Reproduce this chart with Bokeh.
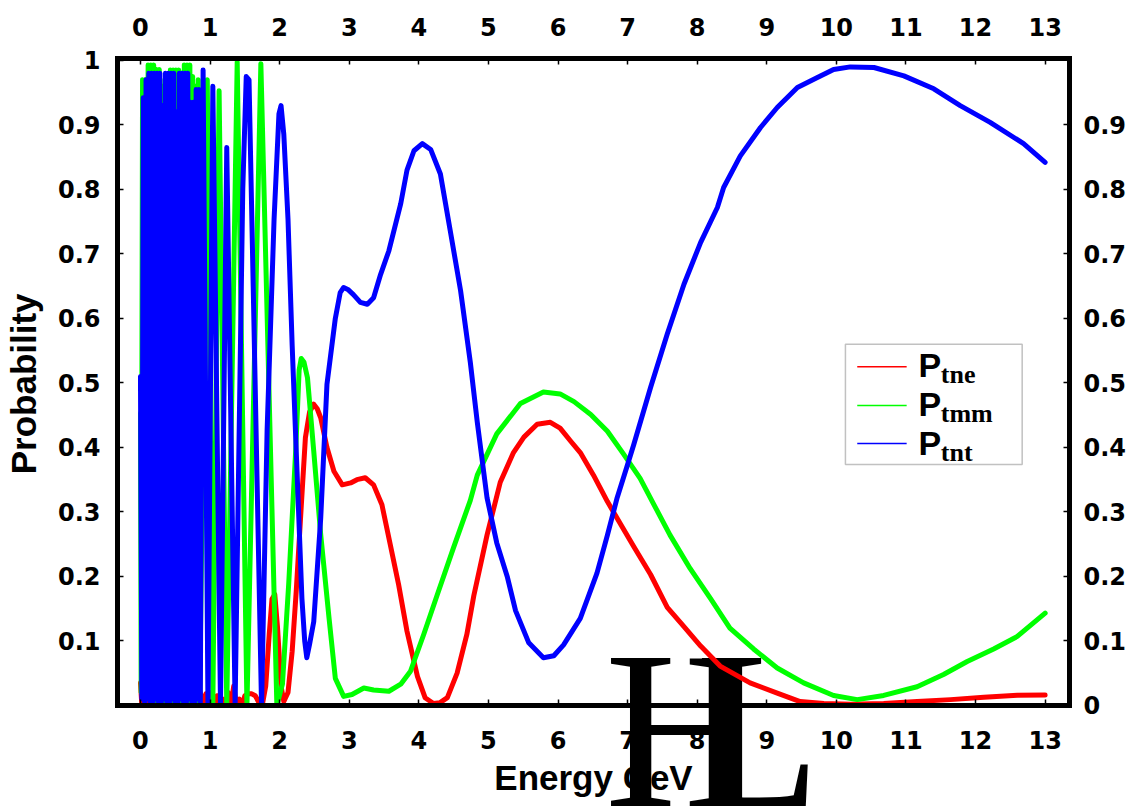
from bokeh.plotting import figure
from bokeh.models import Range1d, LinearAxis, FixedTicker, BoxAnnotation, Arrow, Label
from bokeh.embed import file_html
from bokeh.resources import INLINE

# ---------------- data ----------------
x_ticks = [0, 1, 2, 3, 4, 5, 6, 7, 8, 9, 10, 11, 12, 13]
x_tick_labels = ["0", "1", "2", "3", "4", "5", "6", "7", "8", "9", "10", "11", "12", "13"]
left_ticks = [0.1, 0.2, 0.3, 0.4, 0.5, 0.6, 0.7, 0.8, 0.9, 1.0]
left_tick_labels = ["0.1", "0.2", "0.3", "0.4", "0.5", "0.6", "0.7", "0.8", "0.9", "1"]
right_ticks = [0.0, 0.1, 0.2, 0.3, 0.4, 0.5, 0.6, 0.7, 0.8, 0.9]
right_tick_labels = ["0", "0.1", "0.2", "0.3", "0.4", "0.5", "0.6", "0.7", "0.8", "0.9"]

series_names = ["P", "P", "P"]
series_subs = ["tne", "tmm", "tnt"]
series_colors = ["#FF0000", "#00FF00", "#0000FF"]

# P tau-e (red)
energy_te = [0.00, 0.02, 0.06, 0.10, 0.14, 0.18, 0.22, 0.26, 0.30, 0.34, 0.38, 0.42, 0.46, 0.50,
             0.54, 0.58, 0.62, 0.66, 0.70, 0.74, 0.78, 0.82, 0.86, 0.90, 0.94, 0.98, 1.02, 1.06,
             1.10, 1.14, 1.18, 1.22, 1.26, 1.30, 1.34, 1.38, 1.42, 1.46, 1.50, 1.55, 1.60, 1.65,
             1.70, 1.75, 1.80, 1.85, 1.89, 1.93, 1.97, 2.02, 2.06, 2.12, 2.18, 2.24, 2.30, 2.37,
             2.43, 2.49, 2.54, 2.59, 2.68, 2.78, 2.90, 3.02, 3.11, 3.23, 3.35, 3.47, 3.59, 3.71,
             3.83, 3.98, 4.09, 4.21, 4.30, 4.41, 4.55, 4.69, 4.79, 4.98, 5.17, 5.36, 5.51, 5.70,
             5.89, 6.03, 6.18, 6.32, 6.51, 6.71, 6.90, 7.09, 7.33, 7.57, 7.81, 8.05, 8.33, 8.76,
             9.15, 9.48, 9.82, 10.20, 10.68, 11.16, 11.64, 12.12, 12.60, 13.00]
prob_te = [0.035, 0.0, 0.02, 0.0, 0.012, 0.0, 0.01, 0.0, 0.008, 0.0, 0.006, 0.0, 0.015, 0.0,
           0.012, 0.0, 0.01, 0.0, 0.01, 0.0, 0.012, 0.0, 0.02, 0.0, 0.018, 0.0, 0.02, 0.0,
           0.015, 0.0, 0.01, 0.0, 0.02, 0.0, 0.03, 0.0, 0.01, 0.0, 0.015, 0.018, 0.018, 0.015,
           0.005, 0.0, 0.03, 0.11, 0.165, 0.172, 0.12, 0.03, 0.006, 0.02, 0.084, 0.18, 0.29, 0.415,
           0.455, 0.467, 0.46, 0.446, 0.40, 0.363, 0.342, 0.345, 0.35, 0.353, 0.342, 0.311, 0.249, 0.187,
           0.115, 0.045, 0.012, 0.003, 0.004, 0.012, 0.05, 0.11, 0.17, 0.264, 0.346, 0.392, 0.416, 0.436,
           0.439, 0.43, 0.41, 0.392, 0.357, 0.316, 0.281, 0.246, 0.203, 0.152, 0.122, 0.092, 0.061, 0.035,
           0.019, 0.006, 0.003, 0.002, 0.003, 0.006, 0.009, 0.0125, 0.0157, 0.016]

# P tau-mu (green)
energy_tm = [0.00, 0.01, 0.03, 0.05, 0.07, 0.09, 0.11, 0.13, 0.15, 0.17, 0.19, 0.21, 0.23, 0.25,
             0.27, 0.29, 0.31, 0.33, 0.35, 0.37, 0.39, 0.41, 0.43, 0.45, 0.47, 0.49, 0.51, 0.53,
             0.55, 0.57, 0.59, 0.61, 0.63, 0.65, 0.67, 0.69, 0.71, 0.73, 0.75, 0.77, 0.79, 0.81,
             0.83, 0.85, 0.96, 1.04, 1.13, 1.24, 1.39, 1.53, 1.73, 1.96, 2.04, 2.13, 2.23, 2.28,
             2.31, 2.35, 2.40, 2.49, 2.59, 2.71, 2.80, 2.92, 3.04, 3.21, 3.35, 3.57, 3.74, 3.88,
             4.07, 4.26, 4.50, 4.74, 4.84, 5.12, 5.46, 5.79, 6.03, 6.23, 6.47, 6.71, 6.94, 7.18,
             7.38, 7.61, 7.90, 8.19, 8.47, 8.81, 9.15, 9.53, 9.96, 10.30, 10.68, 11.16, 11.54, 11.88,
             12.26, 12.60, 13.00]
prob_tm = [0.453, 0.02, 0.97, 0.03, 0.97, 0.02, 0.993, 0.01, 0.993, 0.0, 0.993, 0.0, 0.986, 0.0,
           0.986, 0.0, 0.96, 0.0, 0.97, 0.0, 0.97, 0.0, 0.985, 0.0, 0.985, 0.0, 0.985, 0.0,
           0.985, 0.0, 0.98, 0.0, 0.993, 0.0, 0.993, 0.0, 0.993, 0.0, 0.975, 0.0, 0.96, 0.0,
           0.97, 0.0, 0.97, 0.0, 0.953, 0.0, 0.998, 0.0, 0.995, 0.0, 0.033, 0.188, 0.394, 0.52,
           0.538, 0.532, 0.508, 0.394, 0.265, 0.135, 0.042, 0.014, 0.017, 0.027, 0.024, 0.022, 0.033, 0.053,
           0.11, 0.17, 0.245, 0.318, 0.357, 0.421, 0.468, 0.486, 0.483, 0.471, 0.451, 0.425, 0.39, 0.352,
           0.311, 0.264, 0.212, 0.166, 0.12, 0.0875, 0.058, 0.035, 0.0155, 0.009, 0.0155, 0.029, 0.048, 0.068,
           0.0875, 0.107, 0.143]

# P tau-tau (blue)
energy_tt = [0.00, 0.02, 0.04, 0.06, 0.08, 0.10, 0.12, 0.14, 0.16, 0.18, 0.20, 0.22, 0.24, 0.26,
             0.28, 0.30, 0.32, 0.34, 0.36, 0.38, 0.40, 0.42, 0.44, 0.46, 0.48, 0.50, 0.52, 0.54,
             0.56, 0.58, 0.60, 0.62, 0.64, 0.66, 0.68, 0.70, 0.72, 0.74, 0.76, 0.78, 0.80, 0.82,
             0.84, 0.86, 0.90, 0.97, 1.04, 1.15, 1.24, 1.36, 1.47, 1.52, 1.56, 1.62, 1.74, 1.82,
             1.92, 1.99, 2.02, 2.06, 2.12, 2.18, 2.25, 2.32, 2.36, 2.39, 2.43, 2.49, 2.59, 2.68,
             2.80, 2.87, 2.92, 2.98, 3.06, 3.16, 3.26, 3.35, 3.45, 3.57, 3.74, 3.83, 3.93, 4.05,
             4.17, 4.31, 4.45, 4.60, 4.74, 4.84, 4.98, 5.12, 5.27, 5.39, 5.58, 5.79, 5.94, 6.08,
             6.32, 6.56, 6.71, 6.85, 6.99, 7.09, 7.33, 7.57, 7.81, 8.05, 8.29, 8.38, 8.62, 8.91,
             9.15, 9.44, 9.72, 9.96, 10.20, 10.54, 10.97, 11.40, 11.78, 12.21, 12.69, 13.00]
prob_tt = [0.51, 0.01, 0.942, 0.0, 0.97, 0.01, 0.98, 0.0, 0.98, 0.0, 0.98, 0.01, 0.98, 0.0,
           0.98, 0.0, 0.93, 0.01, 0.98, 0.0, 0.98, 0.0, 0.98, 0.01, 0.98, 0.0, 0.92, 0.0,
           0.98, 0.01, 0.98, 0.0, 0.98, 0.0, 0.98, 0.01, 0.935, 0.0, 0.935, 0.0, 0.955, 0.01,
           0.955, 0.0, 0.985, 0.0, 0.96, 0.0, 0.865, 0.0, 0.80, 0.975, 0.97, 0.65, 0.0, 0.427,
           0.754, 0.917, 0.93, 0.885, 0.754, 0.558, 0.362, 0.166, 0.10, 0.074, 0.095, 0.13, 0.29, 0.498,
           0.60, 0.64, 0.648, 0.645, 0.637, 0.625, 0.622, 0.632, 0.668, 0.705, 0.778, 0.83, 0.86, 0.871,
           0.862, 0.824, 0.737, 0.643, 0.532, 0.439, 0.322, 0.252, 0.20, 0.147, 0.097, 0.074, 0.077, 0.094,
           0.135, 0.205, 0.264, 0.322, 0.37, 0.405, 0.493, 0.576, 0.653, 0.718, 0.772, 0.803, 0.852, 0.896,
           0.927, 0.958, 0.973, 0.986, 0.99, 0.989, 0.976, 0.956, 0.93, 0.904, 0.871, 0.842]

# ---------------- figure ----------------
# The frame runs down to the bottom edge so that the big watermark letters can
# be drawn below the x axis; the x axis itself is fixed at probability 0.
Y_TOP = 1.003
Y_BOTTOM = -0.1567
p = figure(width=1143, height=806,
           x_range=Range1d(-0.33, 13.35), y_range=Range1d(Y_BOTTOM, Y_TOP),
           x_axis_location=None, y_axis_location=None,
           toolbar_location=None, output_backend="svg",
           min_border_left=117, min_border_right=74,
           min_border_top=58, min_border_bottom=0)
p.outline_line_color = None
p.background_fill_color = "white"
p.border_fill_color = "white"
p.xgrid.visible = False
p.ygrid.visible = False

TICK_FONT = "DejaVu Sans"
LABEL_FONT = "Liberation Sans"


def make_axis(ticks, labels, axis_label=None, standoff=15, label_standoff=10, **kw):
    ax = LinearAxis(ticker=FixedTicker(ticks=ticks),
                    major_label_overrides={t: l for t, l in zip(ticks, labels)}, **kw)
    ax.axis_line_width = 5
    ax.axis_line_color = "black"
    ax.axis_line_cap = "square"
    ax.major_tick_in = 6
    ax.major_tick_out = 0
    ax.major_tick_line_width = 1.5
    ax.major_tick_line_color = "black"
    ax.minor_tick_in = 0
    ax.minor_tick_out = 0
    ax.major_label_text_font = TICK_FONT
    ax.major_label_text_font_style = "bold"
    ax.major_label_text_font_size = "24px"
    ax.major_label_text_color = "black"
    ax.major_label_standoff = standoff
    if axis_label:
        ax.axis_label = axis_label
        ax.axis_label_text_font = LABEL_FONT
        ax.axis_label_text_font_style = "bold"
        ax.axis_label_text_font_size = "35px"
        ax.axis_label_text_color = "black"
        ax.axis_label_standoff = label_standoff
    return ax


# the y label is centred on the (taller) frame: leading no-break spaces move the
# visible word up to the middle of the 0..1 span, as in the reference
y_label = "\u00a0" * 10 + "Probability"

p.add_layout(make_axis(x_ticks, x_tick_labels, "Energy GeV", standoff=26, label_standoff=5,
                       fixed_location=0.0), "below")
p.add_layout(make_axis(x_ticks, x_tick_labels, standoff=23), "above")
p.add_layout(make_axis(left_ticks, left_tick_labels, y_label, standoff=17, label_standoff=12,
                       bounds=(0.0, Y_TOP)), "left")
p.add_layout(make_axis(right_ticks, right_tick_labels, standoff=14,
                       bounds=(0.0, Y_TOP)), "right")

# watermark letters (text box centred so that the baseline falls on the bottom edge)
for letter, lx in zip(["H", "L"], [6.667, 7.80]):
    p.add_layout(Label(x=lx, y=-0.0391, text=letter, text_font="Liberation Serif",
                       text_font_size="226px", text_color="black",
                       text_baseline="middle", text_align="left", level="underlay"))

# curves
for xs, ys, col in zip([energy_te, energy_tm, energy_tt], [prob_te, prob_tm, prob_tt], series_colors):
    p.line(xs, ys, line_color=col, line_width=5, line_join="round", line_cap="round")

# legend (manual, to allow subscripts)
p.add_layout(BoxAnnotation(left=10.13, right=12.67, bottom=0.3735, top=0.56,
                           fill_color="white", fill_alpha=1.0,
                           line_color="#333333", line_width=1.5))
legend_line_y = [0.525, 0.465, 0.406]
legend_name_y = [0.5276, 0.4676, 0.4076]
legend_sub_y = [0.5129, 0.4529, 0.3929]
for name, sub, col, ly, ny, sy in zip(series_names, series_subs, series_colors,
                                      legend_line_y, legend_name_y, legend_sub_y):
    p.add_layout(Arrow(end=None, x_start=10.30, x_end=11.01, y_start=ly, y_end=ly,
                       line_color=col, line_width=1.5))
    p.add_layout(Label(x=11.18, y=ny, text=name, text_font="Liberation Sans",
                       text_font_style="bold", text_font_size="34px", text_color="black",
                       text_baseline="middle"))
    p.add_layout(Label(x=11.50, y=sy, text=sub, text_font="Liberation Serif",
                       text_font_style="bold", text_font_size="26px", text_color="black",
                       text_baseline="middle"))

open("out.html", "w").write(file_html(p, INLINE))
